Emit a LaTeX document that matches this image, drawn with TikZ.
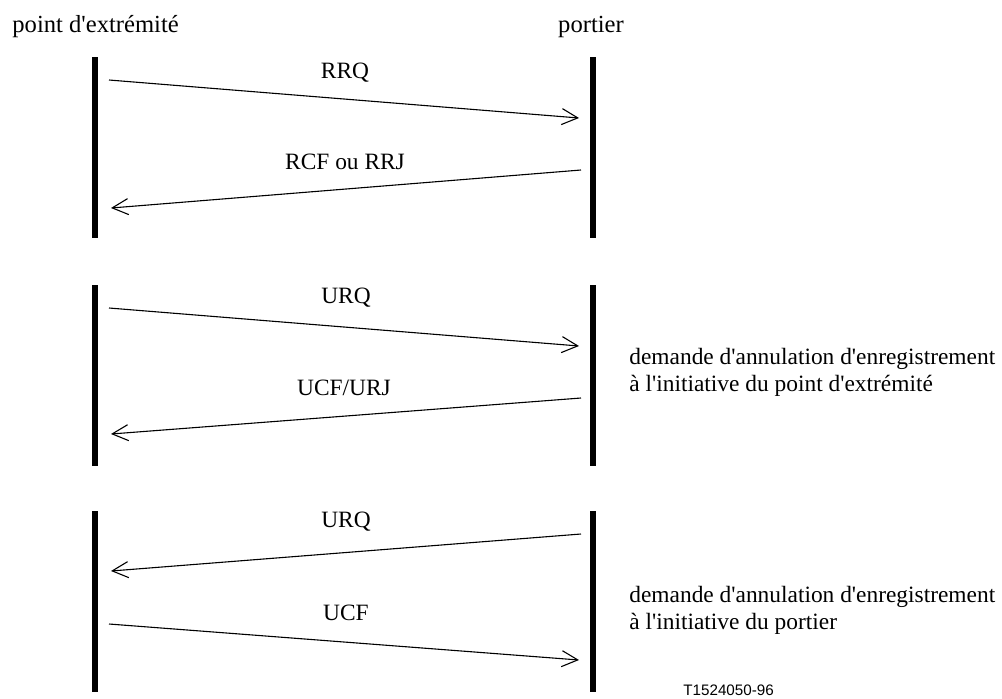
\documentclass[tikz,border=0pt]{standalone}
\usepackage{fontspec}
\setmainfont{Liberation Serif}
\newfontfamily\figfont{Liberation Sans}
\usepackage{tikz}
\usetikzlibrary{arrows.meta, positioning}
\newcommand{\ap}{\textquotesingle}
\tikzset{
    life/.style  ={line width=3pt, draw=black},
    msg/.style   ={-{Straight Barb[length=8pt, width=8pt]}, line width=0.55pt},
    lbl/.style   ={font=\fontsize{11.7}{13.3}\selectfont, inner sep=0pt, anchor=base},
    head/.style  ={lbl, font=\fontsize{12.3}{14}\selectfont},
    note/.style  ={lbl, anchor=base west, align=left},
    figno/.style ={font=\figfont\fontsize{7.6}{9}\selectfont, inner sep=0pt, anchor=base west}
}

\begin{document}
\begin{tikzpicture}[x=0.5pt, y=-0.5pt]
  \useasboundingbox (0,0) rectangle (1002,698);
  % heads
  \node[head, anchor=base west] (ep) at (12,32) {point d\ap extrémité};
  \node[head] (gk) at (591,32) {portier};

  % registration
  \coordinate (a1) at (94.5,57);  \coordinate (a2) at (94.5,238);
  \coordinate (b1) at (592.5,57); \coordinate (b2) at (592.5,238);
  \draw[life] (a1) -- (a2);
  \draw[life] (b1) -- (b2);
  \coordinate (rrqs) at (109,80);  \coordinate (rrqe) at (579,118);
  \coordinate (rcfs) at (581,170); \coordinate (rcfe) at (111,208);
  \draw[msg] (rrqs) -- (rrqe);
  \draw[msg] (rcfs) -- (rcfe);
  \node[lbl] (rrq) at (345,78) {RRQ};
  \node[lbl] (rcf) at (345,169) {RCF ou RRJ};

  % unregistration, endpoint side
  \coordinate (c1) at (94.5,285);  \coordinate (c2) at (94.5,466);
  \coordinate (d1) at (592.5,285); \coordinate (d2) at (592.5,466);
  \draw[life] (c1) -- (c2);
  \draw[life] (d1) -- (d2);
  \coordinate (urqs) at (109,308); \coordinate (urqe) at (579,346);
  \coordinate (ucfs) at (581,398); \coordinate (ucfe) at (111,434);
  \draw[msg] (urqs) -- (urqe);
  \draw[msg] (ucfs) -- (ucfe);
  \node[lbl] (urq) at (346,303) {URQ};
  \node[lbl] (ucfurj) at (344,395) {UCF/URJ};
  \node[note] (noteep) at (629,391) {demande d\ap annulation d\ap enregistrement\\à l\ap initiative du point d\ap extrémité};

  % unregistration, gatekeeper side
  \coordinate (e1) at (94.5,511);  \coordinate (e2) at (94.5,692);
  \coordinate (f1) at (592.5,511); \coordinate (f2) at (592.5,692);
  \draw[life] (e1) -- (e2);
  \draw[life] (f1) -- (f2);
  \coordinate (gurqs) at (581,534); \coordinate (gurqe) at (111,571);
  \coordinate (gucfs) at (109,624); \coordinate (gucfe) at (579,660);
  \draw[msg] (gurqs) -- (gurqe);
  \draw[msg] (gucfs) -- (gucfe);
  \node[lbl] (gurq) at (346,527) {URQ};
  \node[lbl] (gucf) at (346,620) {UCF};
  \node[note] (notegk) at (629,629) {demande d\ap annulation d\ap enregistrement\\à l\ap initiative du portier};

  \node[figno] (fig) at (683,695) {T1524050-96};
\end{tikzpicture}
\end{document}
